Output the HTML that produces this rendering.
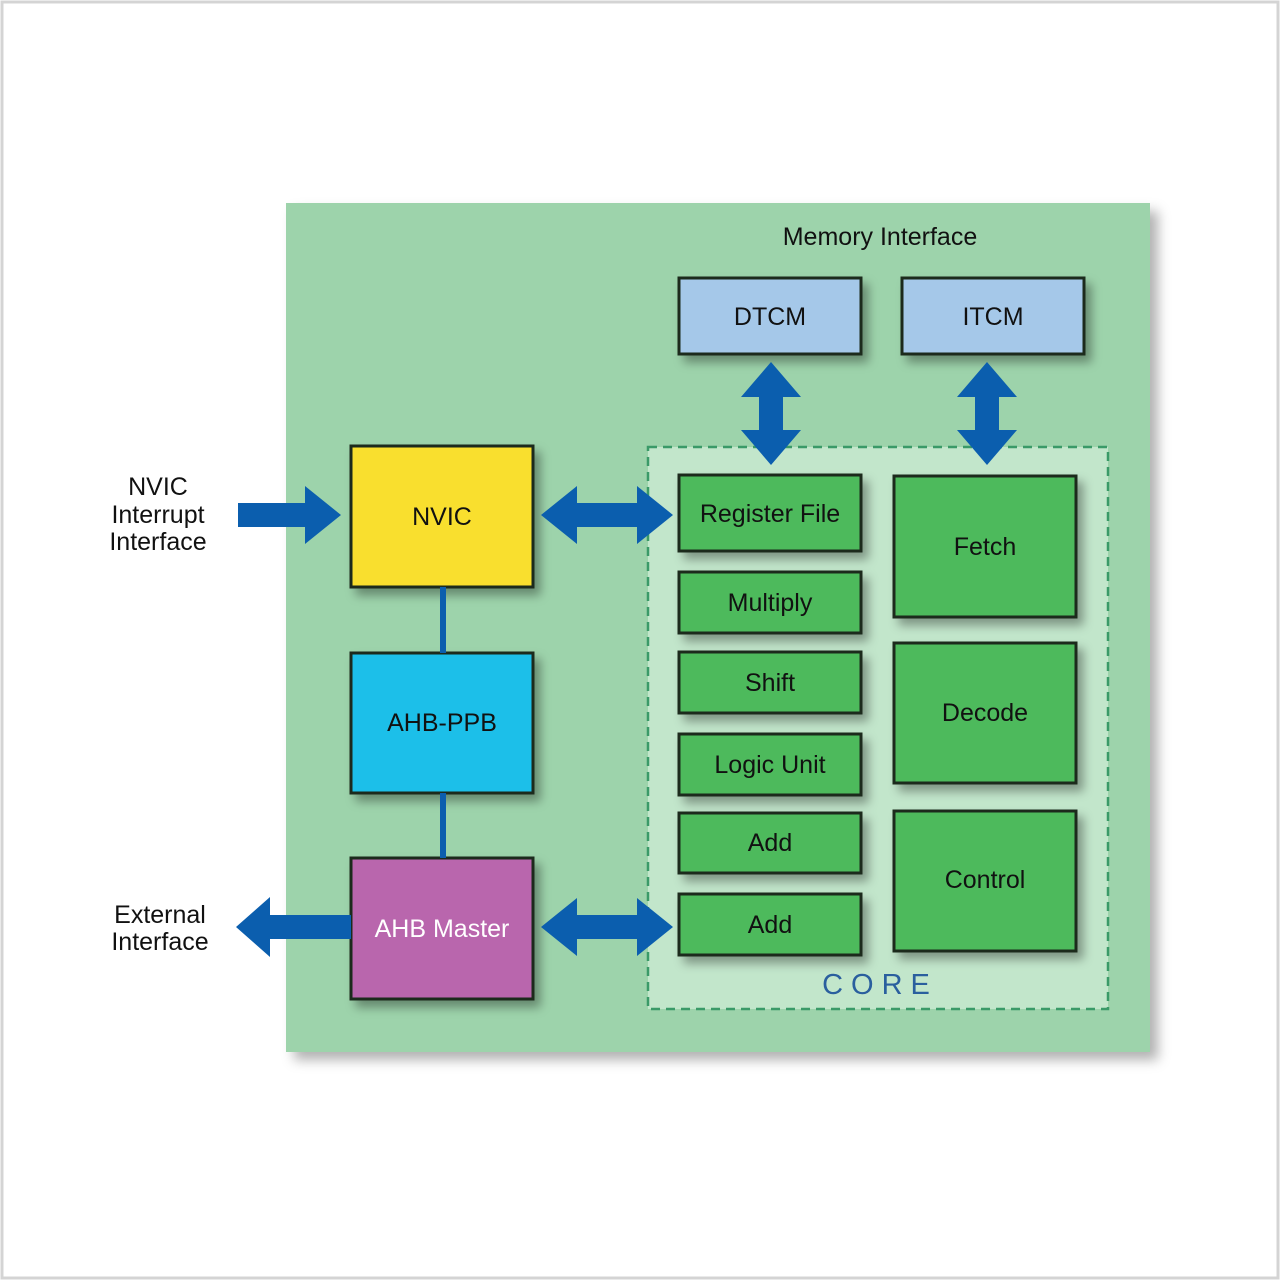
<!DOCTYPE html>
<html><head><meta charset="utf-8"><style>
html,body{margin:0;padding:0;background:#fff;}
svg{display:block;}
text{font-family:"Liberation Sans",sans-serif;}
</style></head><body>
<svg width="1280" height="1280" viewBox="0 0 1280 1280" xmlns="http://www.w3.org/2000/svg">
<defs>
<filter id="sh" x="-20%" y="-20%" width="150%" height="150%">
<feDropShadow dx="6" dy="7" stdDeviation="5" flood-color="#000" flood-opacity="0.35"/>
</filter>
<filter id="sh2" x="-10%" y="-10%" width="130%" height="130%">
<feDropShadow dx="8" dy="8" stdDeviation="6" flood-color="#000" flood-opacity="0.3"/>
</filter>
</defs>
<rect x="2" y="2" width="1276" height="1276" fill="#fff" stroke="#d4d4d4" stroke-width="3"/>
<rect x="286" y="203" width="864" height="849" fill="#9dd3ab" filter="url(#sh2)"/>
<rect x="648" y="447" width="460" height="562" fill="#c2e6cb" stroke="#3a9a68" stroke-width="2.5" stroke-dasharray="9,6"/>
<text x="880" y="245" font-size="25" text-anchor="middle" fill="#111">Memory Interface</text>
<text x="880" y="994" font-size="29" text-anchor="middle" fill="#2a5f9e" letter-spacing="8">CORE</text>

<g stroke="#1a2a1a" stroke-width="3" filter="url(#sh)">
<rect x="679" y="278" width="182" height="76" fill="#a5c8e9"/>
<rect x="902" y="278" width="182" height="76" fill="#a5c8e9"/>
<rect x="351" y="446" width="182" height="141" fill="#f9df2e"/>
<rect x="351" y="653" width="182" height="140" fill="#1ebfe9"/>
<rect x="351" y="858" width="182" height="141" fill="#b966ad"/>
<rect x="679" y="475" width="182" height="76" fill="#4dba5c"/>
<rect x="679" y="572" width="182" height="61" fill="#4dba5c"/>
<rect x="679" y="652" width="182" height="61" fill="#4dba5c"/>
<rect x="679" y="734" width="182" height="61" fill="#4dba5c"/>
<rect x="679" y="813" width="182" height="60" fill="#4dba5c"/>
<rect x="679" y="894" width="182" height="61" fill="#4dba5c"/>
<rect x="894" y="476" width="182" height="141" fill="#4dba5c"/>
<rect x="894" y="643" width="182" height="140" fill="#4dba5c"/>
<rect x="894" y="811" width="182" height="140" fill="#4dba5c"/>
</g>

<rect x="440" y="587" width="6" height="66" fill="#0b5eae"/>
<rect x="440" y="793" width="6" height="65" fill="#0b5eae"/>

<g fill="#0b5eae">
<!-- DTCM vertical double arrow -->
<polygon points="771,362 801,397 783,397 783,430 801,430 771,465 741,430 759,430 759,397 741,397"/>
<polygon points="987,362 1017,397 999,397 999,430 1017,430 987,465 957,430 975,430 975,397 957,397"/>
<!-- NVIC input arrow -->
<polygon points="238,503 305,503 305,486 341,515 305,544 305,527 238,527"/>
<!-- NVIC <-> RegFile -->
<polygon points="541,515 577,486 577,503 637,503 637,486 673,515 637,544 637,527 577,527 577,544"/>
<!-- AHB Master <-> Add -->
<polygon points="541,927 577,898 577,915 637,915 637,898 673,927 637,956 637,939 577,939 577,956"/>
<!-- External output -->
<polygon points="236,927 270,897 270,915 351,915 351,939 270,939 270,957"/>
</g>

<g font-size="25" text-anchor="middle" fill="#111">
<text x="770" y="325">DTCM</text>
<text x="993" y="325">ITCM</text>
<text x="442" y="525">NVIC</text>
<text x="442" y="731">AHB-PPB</text>
<text x="442" y="937" fill="#fff">AHB Master</text>
<text x="770" y="522">Register File</text>
<text x="770" y="611">Multiply</text>
<text x="770" y="691">Shift</text>
<text x="770" y="773">Logic Unit</text>
<text x="770" y="851">Add</text>
<text x="770" y="933">Add</text>
<text x="985" y="555">Fetch</text>
<text x="985" y="721">Decode</text>
<text x="985" y="888">Control</text>
<text x="158" y="495">NVIC</text>
<text x="158" y="523">Interrupt</text>
<text x="158" y="550">Interface</text>
<text x="160" y="923">External</text>
<text x="160" y="950">Interface</text>
</g>
</svg>
</body></html>
